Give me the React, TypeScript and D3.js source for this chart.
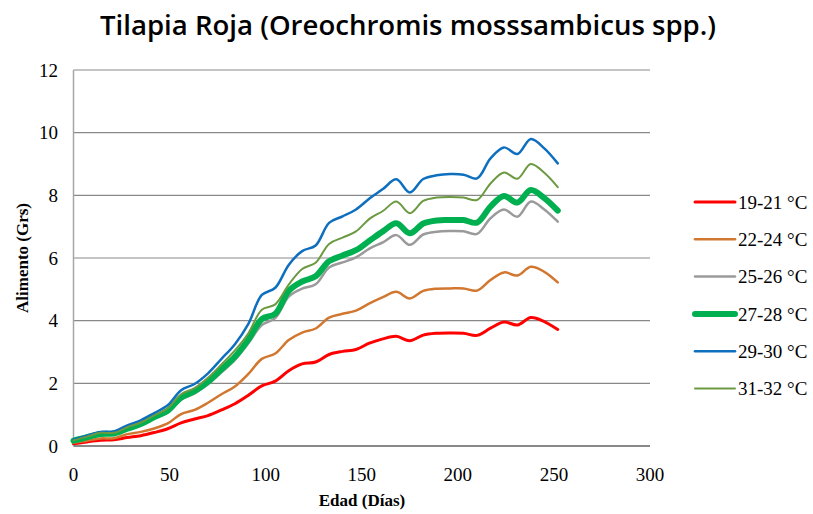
import React from "react";
import * as d3 from "d3";

// weekly sampling days
const days = [
    0, 7, 14, 21, 28, 35, 42, 49, 56, 63, 70, 77, 84, 91, 98, 105, 112, 119,
    126, 133, 140, 147, 154, 161, 168, 175, 182, 189, 196, 203, 210, 217, 224,
    231, 238, 245, 252,
];

const t19_21 = [
    0.07, 0.13, 0.18, 0.2, 0.27, 0.33, 0.43, 0.55, 0.74, 0.86, 0.97, 1.15, 1.35,
    1.62, 1.92, 2.07, 2.4, 2.62, 2.68, 2.92, 3.02, 3.08, 3.28, 3.42, 3.5, 3.36,
    3.54, 3.6, 3.61, 3.6, 3.53, 3.76, 3.96, 3.86, 4.1, 3.97, 3.72,
];
const t22_24 = [
    0.1, 0.17, 0.24, 0.25, 0.38, 0.45, 0.56, 0.72, 1.02, 1.15, 1.38, 1.65, 1.9,
    2.3, 2.78, 2.95, 3.38, 3.62, 3.75, 4.1, 4.22, 4.32, 4.55, 4.75, 4.92, 4.71,
    4.95, 5.02, 5.03, 5.03, 4.96, 5.3, 5.54, 5.44, 5.72, 5.56, 5.22,
];
const t25_26 = [
    0.15, 0.26, 0.36, 0.38, 0.52, 0.66, 0.88, 1.07, 1.48, 1.68, 1.97, 2.35, 2.75,
    3.28, 3.86, 4.08, 4.77, 5.02, 5.16, 5.7, 5.86, 6.02, 6.3, 6.5, 6.73, 6.42,
    6.75, 6.84, 6.86, 6.85, 6.77, 7.27, 7.55, 7.32, 7.8, 7.55, 7.16,
];
const t27_28 = [
    0.17, 0.28, 0.38, 0.4, 0.55, 0.7, 0.92, 1.12, 1.55, 1.75, 2.05, 2.45, 2.85,
    3.4, 4.05, 4.22, 4.95, 5.25, 5.42, 5.9, 6.08, 6.25, 6.55, 6.85, 7.11, 6.79,
    7.1, 7.2, 7.21, 7.21, 7.13, 7.64, 7.98, 7.77, 8.17, 7.91, 7.51,
];
const t29_30 = [
    0.2, 0.33, 0.45, 0.46, 0.66, 0.82, 1.05, 1.3, 1.78, 1.98, 2.32, 2.78, 3.25,
    3.9, 4.82, 5.05, 5.78, 6.22, 6.4, 7.12, 7.33, 7.55, 7.9, 8.2, 8.51, 8.09,
    8.52, 8.64, 8.68, 8.66, 8.54, 9.18, 9.53, 9.32, 9.8, 9.5, 9.02,
];
const t31_32 = [
    0.18, 0.3, 0.42, 0.42, 0.6, 0.75, 0.98, 1.2, 1.65, 1.85, 2.18, 2.6, 3.05,
    3.6, 4.35, 4.52, 5.15, 5.65, 5.85, 6.45, 6.65, 6.85, 7.25, 7.5, 7.8, 7.43,
    7.82, 7.93, 7.95, 7.93, 7.85, 8.38, 8.73, 8.53, 9.0, 8.72, 8.26,
];

const seriesNames = [
    "19-21 °C",
    "22-24 °C",
    "25-26 °C",
    "27-28 °C",
    "29-30 °C",
    "31-32 °C",
];
const seriesValues = [t19_21, t22_24, t25_26, t27_28, t29_30, t31_32];
const colors = ["#ff0000", "#d2772f", "#9a9a9a", "#00b050", "#0f6fbf", "#6b9a41"];
const widths = [3, 2.5, 2.5, 6, 2.5, 2];

const xTicks = [0, 50, 100, 150, 200, 250, 300];
const yTicks = [0, 2, 4, 6, 8, 10, 12];

const SERIF = "Liberation Serif, Times New Roman, Times, DejaVu Serif, serif";

const App: React.FC = () => {
    const x = d3.scaleLinear().domain([0, 300]).range([73.5, 650]);
    const y = d3.scaleLinear().domain([0, 12]).range([446, 70]);

    const lineGen = d3
        .line<number>()
        .x((_, i) => x(days[i]))
        .y(d => y(d))
        .curve(d3.curveCatmullRom.alpha(0.5));

    return (
        <svg
            width={813}
            height={514}
            style={{ position: "absolute", left: 0, top: 0, background: "#fff" }}
        >
            <text
                x={408}
                y={35}
                textAnchor="middle"
                fontFamily="Open Sans, sans-serif"
                fontWeight={600}
                fontSize={27}
                textLength={616}
                lengthAdjust="spacingAndGlyphs"
                fill="#000"
            >
                Tilapia Roja (Oreochromis mosssambicus spp.)
            </text>

            {/* grid lines */}
            {yTicks.slice(1).map(t => (
                <line
                    key={"g" + t}
                    x1={x(0)}
                    x2={x(300)}
                    y1={y(t)}
                    y2={y(t)}
                    stroke="#898989"
                    strokeWidth={1.2}
                />
            ))}
            <line x1={x(0)} x2={x(0)} y1={y(12)} y2={y(0)} stroke="#a6a6a6" strokeWidth={1.5} />
            <line x1={x(0)} x2={x(300)} y1={y(0)} y2={y(0)} stroke="#898989" strokeWidth={2.2} />

            <g fontFamily={SERIF} fontSize={19} fill="#000">
                {yTicks.map(t => (
                    <text key={"y" + t} x={58} y={y(t)} dy="0.35em" textAnchor="end">
                        {t}
                    </text>
                ))}
                {xTicks.map(t => (
                    <text key={"x" + t} x={x(t)} y={481} textAnchor="middle">
                        {t}
                    </text>
                ))}
            </g>

            <g fontFamily={SERIF} fontWeight="bold" fontSize={17}>
                <text x={362} y={506} textAnchor="middle">
                    Edad (Días)
                </text>
                <text transform="translate(28,258) rotate(-90)" textAnchor="middle">
                    Alimento (Grs)
                </text>
            </g>

            {seriesValues.map((vals, i) => (
                <path
                    key={"s" + i}
                    d={lineGen(vals) || ""}
                    fill="none"
                    stroke={colors[i]}
                    strokeWidth={widths[i]}
                    strokeLinejoin="round"
                    strokeLinecap="round"
                />
            ))}

            {seriesNames.map((name, i) => {
                const ly = 202 + i * 37.3;
                return (
                    <g key={"l" + i}>
                        <line
                            x1={695}
                            x2={735}
                            y1={ly}
                            y2={ly}
                            stroke={colors[i]}
                            strokeWidth={widths[i]}
                            strokeLinecap="round"
                        />
                        <text x={738} y={ly} dy="0.35em" fontFamily={SERIF} fontSize={19}>
                            {name}
                        </text>
                    </g>
                );
            })}
        </svg>
    );
};

export default App;
